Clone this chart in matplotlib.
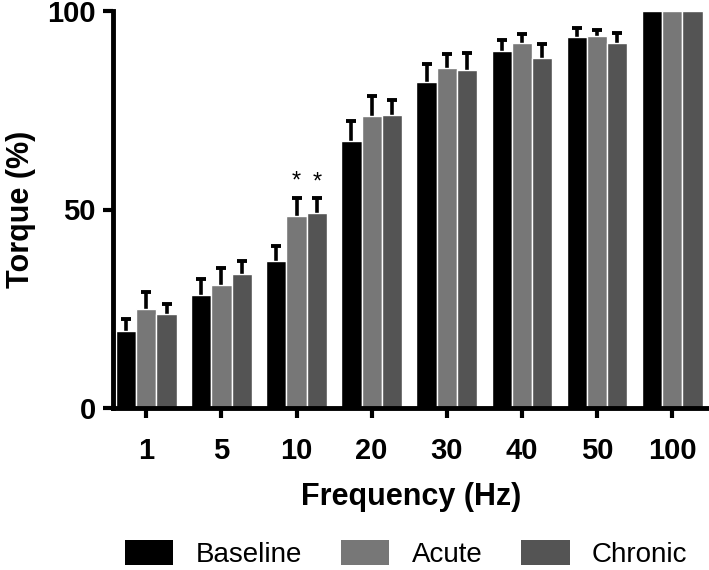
import matplotlib
matplotlib.use("Agg")
import matplotlib.pyplot as plt
import numpy as np

plt.rcParams['font.family'] = ['Liberation Sans', 'DejaVu Sans']

freqs = ["1", "5", "10", "20", "30", "40", "50", "100"]
series = ["Baseline", "Acute", "Chronic"]
baseline = [19.4, 28.4, 37.0, 67.3, 82.2, 89.9, 93.5, 100]
acute = [25.0, 31.0, 48.4, 73.5, 85.6, 92.0, 93.8, 100]
chronic = [23.6, 33.8, 49.2, 73.7, 85.2, 88.1, 91.9, 100]
baseline_err = [3.0, 4.0, 3.8, 5.0, 4.5, 2.8, 2.3, 0]
acute_err = [4.2, 4.3, 4.6, 5.2, 3.5, 2.1, 1.4, 0]
chronic_err = [2.7, 3.2, 3.6, 3.9, 4.3, 3.5, 2.6, 0]
colors = ["#000000", "#777777", "#545454"]
signif = {"10": ["Acute", "Chronic"]}

fig = plt.figure(figsize=(7.09, 5.70), dpi=100)
ax = fig.add_axes([112.5/709, 1-408/570, 1-112.5/709, (408-11)/570])

x = np.arange(len(freqs))
w = 0.27
vals = [baseline, acute, chronic]
errs = [baseline_err, acute_err, chronic_err]
for i, (name, v, e, c) in enumerate(zip(series, vals, errs, colors)):
    pos = x + (i - 1) * w
    v = np.array(v)
    e = np.array(e)
    ax.bar(pos, v, w, color=c, edgecolor='white', linewidth=1, label=name, zorder=2)
    m = e > 0
    ax.errorbar(pos[m], v[m], yerr=e[m], fmt='none', ecolor='black',
                elinewidth=2.6, capsize=3.6, capthick=2.8, zorder=1)
    for j, f in enumerate(freqs):
        if name in signif.get(f, []):
            ax.text(pos[j], v[j] + e[j] + 1.2, "*", ha='center', va='bottom',
                    fontsize=17, color='black')

ax.set_xlim(-0.45, 7.49)
ax.set_ylim(0, 100)
ax.set_yticks([0, 50, 100])
ax.set_xticks(x)
ax.set_xticklabels(freqs)
for s in ['top', 'right']:
    ax.spines[s].set_visible(False)
for s in ['left', 'bottom']:
    ax.spines[s].set_linewidth(3.5)
ax.tick_params(axis='both', width=3, length=7, labelsize=21)
ax.tick_params(axis='x', pad=14)
ax.tick_params(axis='y', pad=5)
for lab in ax.get_xticklabels() + ax.get_yticklabels():
    lab.set_fontweight('bold')
ax.set_xlabel("Frequency (Hz)", fontsize=22, fontweight='bold', labelpad=12)
ax.set_ylabel("Torque (%)", fontsize=22, fontweight='bold', labelpad=8)

leg = fig.legend(loc='center', bbox_to_anchor=(406/709, 1-554/570), ncol=3,
                 frameon=False, fontsize=20, handlelength=1.75, handleheight=1.0,
                 handletextpad=0.8, columnspacing=1.4)
for h in leg.legend_handles:
    h.set_edgecolor('none')

fig.savefig("out.png", dpi=100)
